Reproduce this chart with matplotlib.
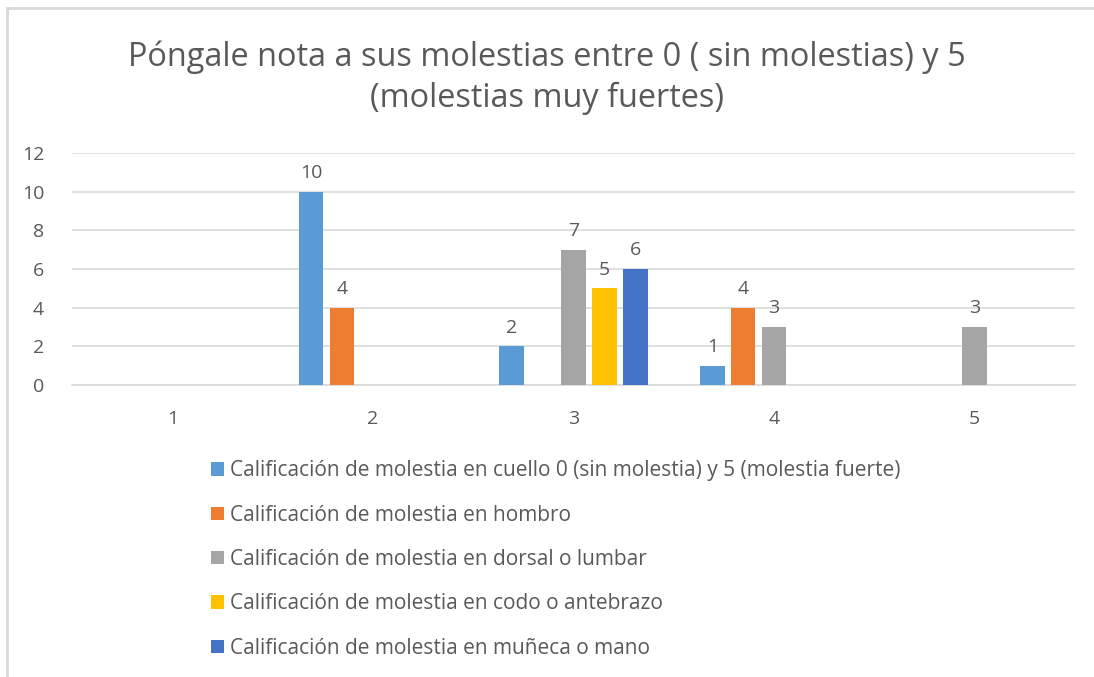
import matplotlib.pyplot as plt
import numpy as np

plt.rcParams['font.family'] = ['Open Sans', 'DejaVu Sans']

categorias = ['1', '2', '3', '4', '5']
cuello = [0, 10, 2, 1, 0]
hombro = [0, 4, 0, 4, 0]
dorsal = [0, 0, 7, 3, 3]
codo = [0, 0, 5, 0, 0]
muneca = [0, 0, 6, 0, 0]

nombres = ['Calificación de molestia en cuello 0 (sin molestia) y 5 (molestia fuerte)',
           'Calificación de molestia en hombro',
           'Calificación de molestia en dorsal o lumbar',
           'Calificación de molestia en codo o antebrazo',
           'Calificación de molestia en muñeca o mano']
colores = ['#5B9BD5', '#ED7D31', '#A5A5A5', '#FFC000', '#4472C4']
series = [cuello, hombro, dorsal, codo, muneca]

W, H = 1094, 677
fig = plt.figure(figsize=(W / 100, H / 100), dpi=100)

# borde del area del grafico (solo arriba e izquierda se ven)
fig.add_artist(plt.Line2D([7 / W, 1], [1 - 8 / H, 1 - 8 / H], color='#D9D9D9', lw=2))
fig.add_artist(plt.Line2D([7 / W, 7 / W], [0, 1 - 8 / H], color='#D9D9D9', lw=2))

ax = fig.add_axes([72 / W, 1 - 385 / H, (1075 - 72) / W, (385 - 153) / H])
x = np.arange(len(categorias))
paso = 0.154
ancho = 0.122
for i, (vals, col, nom) in enumerate(zip(series, colores, nombres)):
    pos = x + (i - 2) * paso
    bars = ax.bar(pos, vals, ancho, color=col, label=nom, zorder=3)
    for b, v in zip(bars, vals):
        if v:
            ax.text(b.get_x() + b.get_width() / 2, v + 0.5, str(v),
                    ha='center', va='bottom', fontsize=14, color='#595959')

ax.set_xlim(-0.5, 4.5)
ax.set_ylim(0, 12)
ax.set_yticks(range(0, 13, 2))
ax.set_xticks(x)
ax.set_xticklabels(categorias)
ax.grid(axis='y', color='#D9D9D9', lw=1.2, zorder=0)
for s in ['top', 'right', 'left']:
    ax.spines[s].set_visible(False)
ax.spines['bottom'].set_color('#D9D9D9')
ax.spines['bottom'].set_linewidth(1.2)
ax.tick_params(length=0, labelsize=14, labelcolor='#595959')
ax.tick_params(axis='x', pad=18)
ax.tick_params(axis='y', pad=20)

fig.text(0.5, 1 - 78 / H, 'Póngale nota a sus molestias entre 0 ( sin molestias) y 5\n(molestias muy fuertes)',
         ha='center', va='center', fontsize=23.4, color='#595959', linespacing=1.3)

leg = fig.legend(loc='upper left', bbox_to_anchor=(203 / W, 1 - 452 / H), frameon=False,
                 fontsize=15, labelspacing=1.12, handlelength=0.62, handleheight=0.62,
                 handletextpad=0.3, borderaxespad=0)
for t in leg.get_texts():
    t.set_color('#595959')

fig.savefig('out.png', dpi=100)
